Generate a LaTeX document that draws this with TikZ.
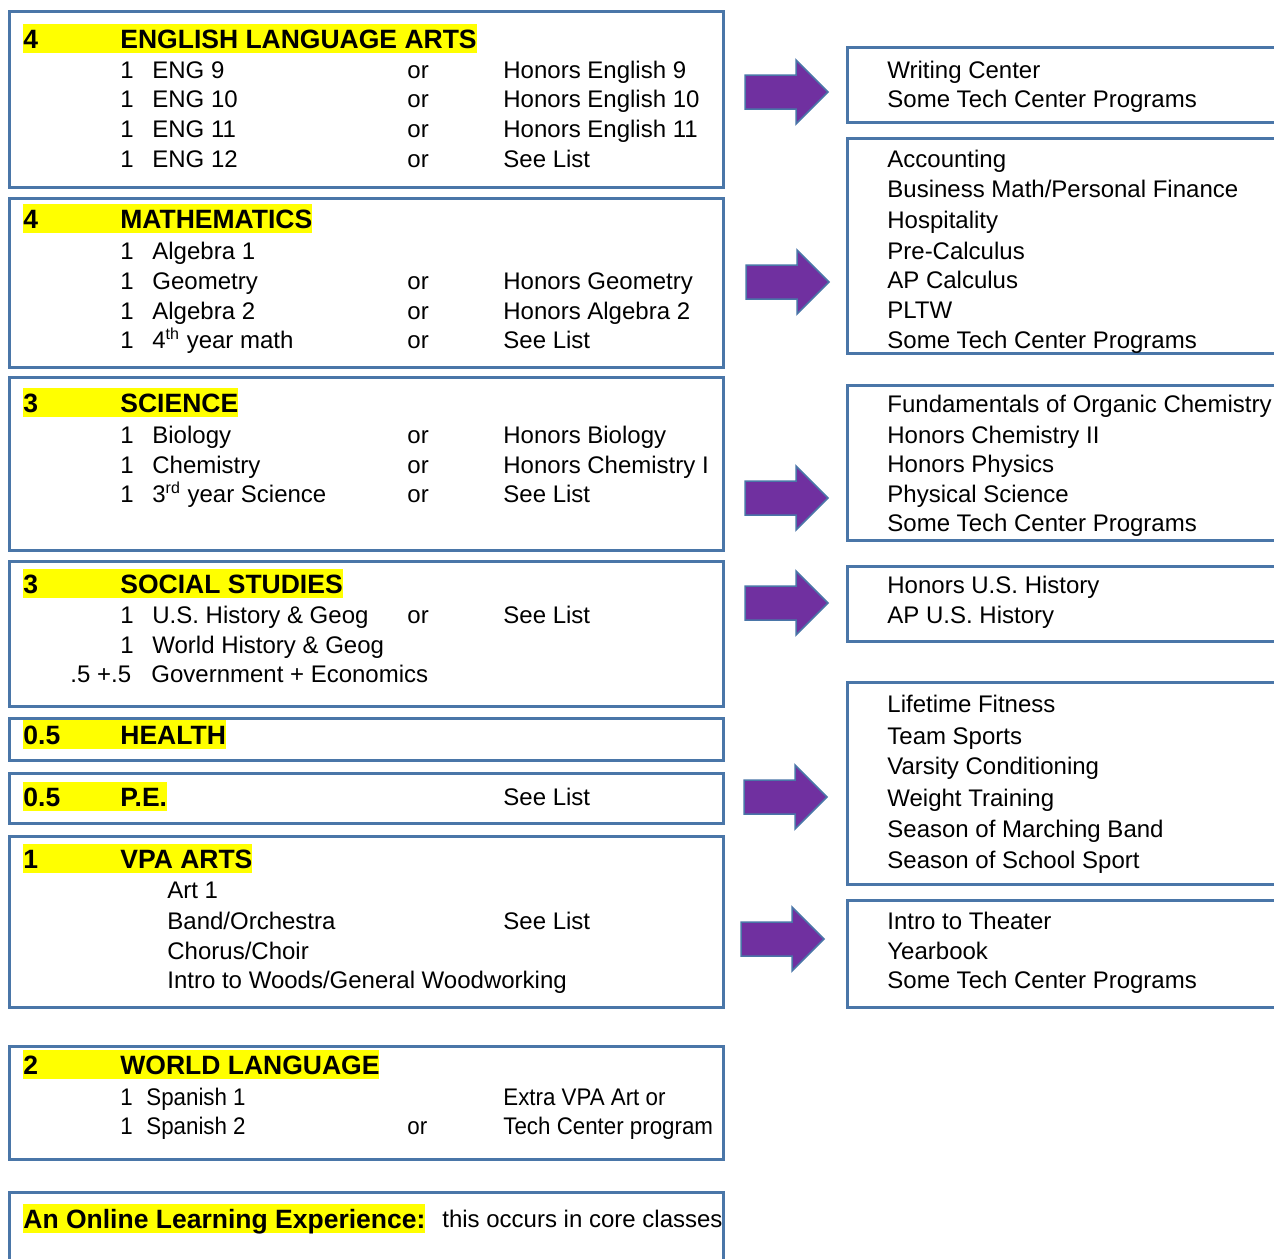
\documentclass[tikz,border=0pt]{standalone}
\usepackage{fontspec}
\setmainfont{Liberation Sans}
\newfontfamily\condfont[FakeStretch=0.93]{Liberation Sans}
\definecolor{bx}{RGB}{74,118,168}
\definecolor{arrowfill}{RGB}{112,48,160}
\definecolor{hl}{RGB}{255,255,0}
\newcommand\lrow[6]{%
  \node[txt] (#1a) at (120,#2+8.5) {#3};
  \node[txt] (#1b) at (152,#2+8.5) {#4};
  \node[txt] (#1c) at (407,#2+8.5) {#5};
  \node[txt] (#1d) at (503,#2+8.5) {#6};}
\newcommand\hdr[4]{% name, ycenter, number, title
  \node[hdrsty] (#1) at (23,#2+9.5) {\makebox[48.5pt][l]{#3}#4};}
\newcommand\rtxt[3]{\node[txt] (#1) at (887,#2+8.5) {#3};}
\newcommand\barr[2]{%
  \draw[barrow] (#1,#2-17) -- (#1+51,#2-17) -- (#1+51,#2-32) -- (#1+83,#2)
    -- (#1+51,#2+32) -- (#1+51,#2+17) -- (#1,#2+17) -- cycle;}
\newcommand\rbox[2]{\draw[box] (1290,#1) -- (847,#1) -- (847,#2) -- (1290,#2);}
\begin{document}
\begin{tikzpicture}[x=0.5pt,y=-0.5pt,
  box/.style={draw=bx, line width=1.5pt},
  txt/.style={anchor=base west, inner sep=0pt, font=\fontsize{12}{14}\selectfont},
  ctxt/.style={anchor=base west, inner sep=0pt, font=\fontsize{12}{14}\selectfont\condfont},
  hdrsty/.style={anchor=base west, inner sep=0pt, fill=hl, text height=12.25pt, text depth=2.25pt,
     font=\fontsize{13.25}{16}\selectfont\bfseries},
  barrow/.style={fill=arrowfill, draw=bx, line width=0.75pt}]
\useasboundingbox (0,0) rectangle (1274,1258);
\fill[white] (0,0) rectangle (1274,1258);
\clip (0,0) rectangle (1274,1258);

% ---------- left boxes ----------
\draw[box] (9,11) rectangle (723,187);
\hdr{h1}{39}{4}{ENGLISH LANGUAGE ARTS}
\lrow{e1}{70}{1}{ENG 9}{or}{Honors English 9}
\lrow{e2}{99}{1}{ENG 10}{or}{Honors English 10}
\lrow{e3}{129}{1}{ENG 11}{or}{Honors English 11}
\lrow{e4}{159}{1}{ENG 12}{or}{See List}

\draw[box] (9,198) rectangle (723,367);
\hdr{h2}{219}{4}{MATHEMATICS}
\lrow{m1}{251}{1}{Algebra 1}{}{}
\lrow{m2}{281}{1}{Geometry}{or}{Honors Geometry}
\lrow{m3}{311}{1}{Algebra 2}{or}{Honors Algebra 2}
\lrow{m4}{340}{1}{4\textsuperscript{th} year math}{or}{See List}

\draw[box] (9,377) rectangle (723,550);
\hdr{h3}{403}{3}{SCIENCE}
\lrow{s1}{435}{1}{Biology}{or}{Honors Biology}
\lrow{s2}{465}{1}{Chemistry}{or}{Honors Chemistry I}
\lrow{s3}{494}{1}{3\textsuperscript{rd} year Science}{or}{See List}

\draw[box] (9,561) rectangle (723,706);
\hdr{h4}{584}{3}{SOCIAL STUDIES}
\lrow{o1}{615}{1}{U.S. History \& Geog}{or}{See List}
\lrow{o2}{645}{1}{World History \& Geog}{}{}
\node[txt] (o3a) at (70,674+8.5) {.5 +.5};
\node[txt] (o3b) at (151,674+8.5) {Government + Economics};

\draw[box] (9,718) rectangle (723,760);
\hdr{h5}{735}{0.5}{HEALTH}

\draw[box] (9,773) rectangle (723,823);
\hdr{h6}{797}{0.5}{P.E.}
\node[txt] (pe) at (503,797+8.5) {See List};

\draw[box] (9,836) rectangle (723,1007);
\hdr{h7}{859}{1}{VPA ARTS}
\node[txt] (v1) at (167,890+8.5) {Art 1};
\node[txt] (v2) at (167,921+8.5) {Band/Orchestra};
\node[txt] (v2b) at (503,921+8.5) {See List};
\node[txt] (v3) at (167,951+8.5) {Chorus/Choir};
\node[txt] (v4) at (167,980+8.5) {Intro to Woods/General Woodworking};

\draw[box] (9,1046) rectangle (723,1159);
\hdr{h8}{1065}{2}{WORLD LANGUAGE}
\node[ctxt] (w1a) at (120,1097+8.5) {1};
\node[ctxt] (w1b) at (146,1097+8.5) {Spanish 1};
\node[ctxt] (w1d) at (503,1097+8.5) {Extra VPA Art or};
\node[ctxt] (w2a) at (120,1126+8.5) {1};
\node[ctxt] (w2b) at (146,1126+8.5) {Spanish 2};
\node[ctxt] (w2c) at (407,1126+8.5) {or};
\node[ctxt] (w2d) at (503,1126+8.5) {Tech Center program};

\draw[box] (9,1275) -- (9,1192) -- (723,1192) -- (723,1275);
\node[hdrsty] (h9) at (23,1219+9.5) {An Online Learning Experience:};
\node[txt] (h9b) at (442,1219+8.5) {this occurs in core classes};

% ---------- arrows ----------
\barr{745}{92}
\barr{746}{282}
\barr{745}{498}
\barr{745}{603}
\barr{744}{797}
\barr{741}{939}

% ---------- right boxes ----------
\rbox{47}{122}
\rtxt{r11}{70}{Writing Center}
\rtxt{r12}{99}{Some Tech Center Programs}

\rbox{138}{353}
\rtxt{r21}{159}{Accounting}
\rtxt{r22}{189}{Business Math/Personal Finance}
\rtxt{r23}{220}{Hospitality}
\rtxt{r24}{251}{Pre-Calculus}
\rtxt{r25}{280}{AP Calculus}
\rtxt{r26}{310}{PLTW}
\rtxt{r27}{340}{Some Tech Center Programs}

\rbox{385}{540}
\rtxt{r31}{404}{Fundamentals of Organic Chemistry}
\rtxt{r32}{435}{Honors Chemistry II}
\rtxt{r33}{464}{Honors Physics}
\rtxt{r34}{494}{Physical Science}
\rtxt{r35}{523}{Some Tech Center Programs}

\rbox{566}{641}
\rtxt{r41}{585}{Honors U.S. History}
\rtxt{r42}{615}{AP U.S. History}

\rbox{682}{884}
\rtxt{r51}{704}{Lifetime Fitness}
\rtxt{r52}{736}{Team Sports}
\rtxt{r53}{766}{Varsity Conditioning}
\rtxt{r54}{798}{Weight Training}
\rtxt{r55}{829}{Season of Marching Band}
\rtxt{r56}{860}{Season of School Sport}

\rbox{900}{1007}
\rtxt{r61}{921}{Intro to Theater}
\rtxt{r62}{951}{Yearbook}
\rtxt{r63}{980}{Some Tech Center Programs}
\end{tikzpicture}
\end{document}
